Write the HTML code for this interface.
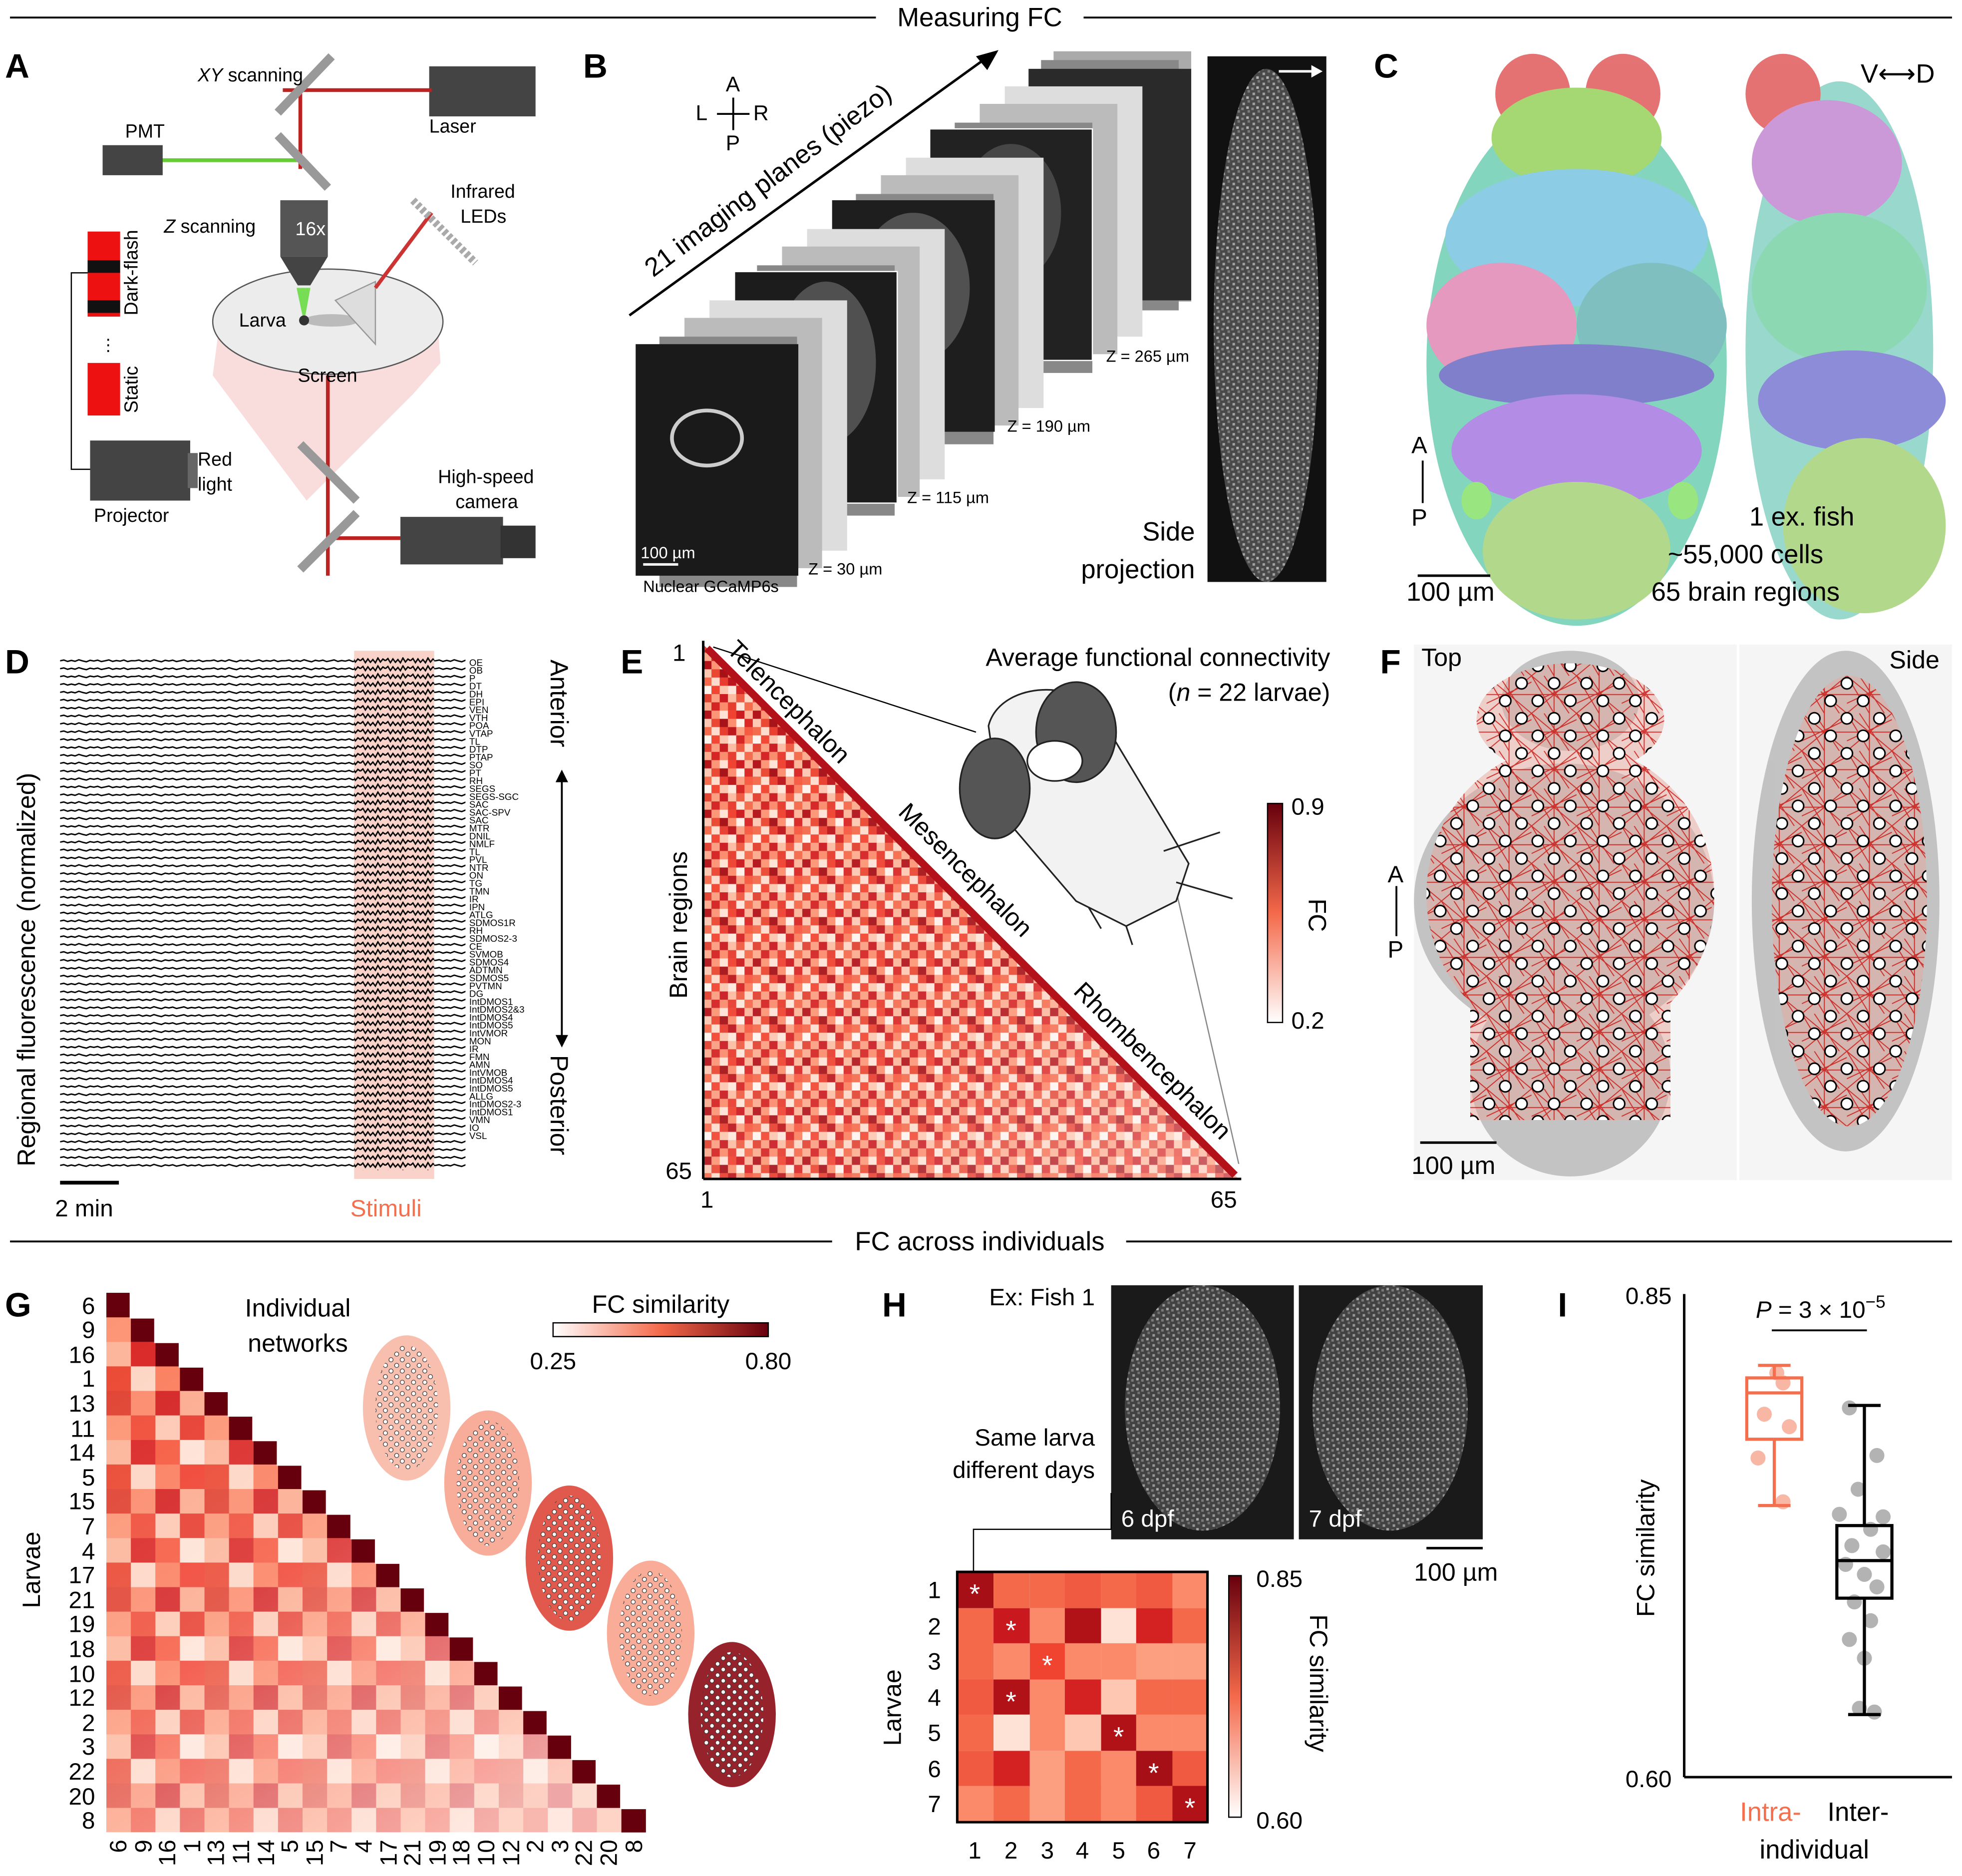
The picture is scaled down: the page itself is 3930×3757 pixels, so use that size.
<!DOCTYPE html>
<html><head><meta charset="utf-8">
<style>
html,body{margin:0;padding:0;background:#fff;}
svg{display:block;font-family:"Liberation Sans",Arial,sans-serif;}
</style></head>
<body>
<svg width="3930" height="3757" viewBox="0 0 1568 1499" xmlns="http://www.w3.org/2000/svg">
<defs>
<linearGradient id="gE" x1="0" y1="1" x2="0" y2="0"><stop offset="0" stop-color="#fff"/><stop offset="0.5" stop-color="#f4694a"/><stop offset="1" stop-color="#67000d"/></linearGradient>
<linearGradient id="gG" x1="0" y1="0" x2="1" y2="0"><stop offset="0" stop-color="#fff"/><stop offset="0.5" stop-color="#f4694a"/><stop offset="1" stop-color="#67000d"/></linearGradient>
<linearGradient id="fadeE" x1="0" y1="0" x2="1" y2="1"><stop offset="0" stop-color="#fff" stop-opacity="0"/><stop offset="0.6" stop-color="#fff" stop-opacity="0.1"/><stop offset="1" stop-color="#fff" stop-opacity="0.35"/></linearGradient>
<linearGradient id="fadeG" x1="0" y1="0" x2="0.7" y2="1"><stop offset="0" stop-color="#fff" stop-opacity="0"/><stop offset="0.5" stop-color="#fff" stop-opacity="0.15"/><stop offset="1" stop-color="#fff" stop-opacity="0.6"/></linearGradient>
<pattern id="pD" x="48" y="525" width="60" height="6.3" patternUnits="userSpaceOnUse">
<path d="M0,3 L3,2.4 L6,3.5 L9,2.7 L12,3.4 L15,2.2 L18,3.1 L21,3.8 L24,2.6 L27,3.2 L30,2.5 L33,3.6 L36,3 L39,2.3 L42,3.5 L45,2.8 L48,3.3 L51,2.4 L54,3.6 L57,2.9 L60,3" fill="none" stroke="#000" stroke-width="1.1"/>
</pattern>
<pattern id="pD2" x="48" y="525" width="20" height="6.3" patternUnits="userSpaceOnUse">
<path d="M0,3 L2,1.2 L4,4.5 L6,1.5 L8,4.2 L10,2 L12,4.6 L14,0.8 L16,4 L18,1.6 L20,3" fill="none" stroke="#000" stroke-width="1.1"/>
</pattern>
<pattern id="pE" x="562" y="515" width="39.6" height="39.6" patternUnits="userSpaceOnUse">
<rect width="39.6" height="39.6" fill="#f26a4c"/>
<rect x="0" y="0" width="6.6" height="6.6" fill="#e0402f"/><rect x="6.6" y="0" width="6.6" height="6.6" fill="#fb9d80"/><rect x="13.2" y="0" width="6.6" height="6.6" fill="#c9191f"/><rect x="19.8" y="0" width="6.6" height="6.6" fill="#fcbba1"/><rect x="26.4" y="0" width="6.6" height="6.6" fill="#ef5a40"/><rect x="33" y="0" width="6.6" height="6.6" fill="#fdd5c4"/>
<rect x="0" y="6.6" width="6.6" height="6.6" fill="#fcaa8d"/><rect x="6.6" y="6.6" width="6.6" height="6.6" fill="#d42121"/><rect x="13.2" y="6.6" width="6.6" height="6.6" fill="#fb8a6b"/><rect x="19.8" y="6.6" width="6.6" height="6.6" fill="#e63a2c"/><rect x="26.4" y="6.6" width="6.6" height="6.6" fill="#fee4d8"/><rect x="33" y="6.6" width="6.6" height="6.6" fill="#f4694a"/>
<rect x="0" y="13.2" width="6.6" height="6.6" fill="#b11218"/><rect x="6.6" y="13.2" width="6.6" height="6.6" fill="#fc9474"/><rect x="13.2" y="13.2" width="6.6" height="6.6" fill="#fee2d5"/><rect x="19.8" y="13.2" width="6.6" height="6.6" fill="#f03f2e"/><rect x="26.4" y="13.2" width="6.6" height="6.6" fill="#cb181d"/><rect x="33" y="13.2" width="6.6" height="6.6" fill="#fcb499"/>
<rect x="0" y="19.8" width="6.6" height="6.6" fill="#fdc7b2"/><rect x="6.6" y="19.8" width="6.6" height="6.6" fill="#ea4630"/><rect x="13.2" y="19.8" width="6.6" height="6.6" fill="#a50f15"/><rect x="19.8" y="19.8" width="6.6" height="6.6" fill="#fc8d6d"/><rect x="26.4" y="19.8" width="6.6" height="6.6" fill="#fff0e8"/><rect x="33" y="19.8" width="6.6" height="6.6" fill="#d92523"/>
<rect x="0" y="26.4" width="6.6" height="6.6" fill="#f4694a"/><rect x="6.6" y="26.4" width="6.6" height="6.6" fill="#fedbcc"/><rect x="13.2" y="26.4" width="6.6" height="6.6" fill="#e83b2c"/><rect x="19.8" y="26.4" width="6.6" height="6.6" fill="#bb141a"/><rect x="26.4" y="26.4" width="6.6" height="6.6" fill="#fc9e80"/><rect x="33" y="26.4" width="6.6" height="6.6" fill="#f6583e"/>
<rect x="0" y="33" width="6.6" height="6.6" fill="#fff3ed"/><rect x="6.6" y="33" width="6.6" height="6.6" fill="#f14430"/><rect x="13.2" y="33" width="6.6" height="6.6" fill="#fdc5ae"/><rect x="19.8" y="33" width="6.6" height="6.6" fill="#fee6da"/><rect x="26.4" y="33" width="6.6" height="6.6" fill="#d52221"/><rect x="33" y="33" width="6.6" height="6.6" fill="#fb7d5d"/>
</pattern>
<pattern id="pG" x="85" y="1033" width="78.4" height="78.4" patternUnits="userSpaceOnUse">
<rect width="78.4" height="78.4" fill="#f4694a"/>
<rect x="0" y="0" width="19.6" height="19.6" fill="#e0402f"/><rect x="19.6" y="0" width="19.6" height="19.6" fill="#fb8a6b"/><rect x="39.2" y="0" width="19.6" height="19.6" fill="#d42121"/><rect x="58.8" y="0" width="19.6" height="19.6" fill="#fcaa8d"/>
<rect x="0" y="19.6" width="19.6" height="19.6" fill="#fc9474"/><rect x="19.6" y="19.6" width="19.6" height="19.6" fill="#ef4b36"/><rect x="39.2" y="19.6" width="19.6" height="19.6" fill="#fdc7b2"/><rect x="58.8" y="19.6" width="19.6" height="19.6" fill="#e63a2c"/>
<rect x="0" y="39.2" width="19.6" height="19.6" fill="#fcb499"/><rect x="19.6" y="39.2" width="19.6" height="19.6" fill="#d92523"/><rect x="39.2" y="39.2" width="19.6" height="19.6" fill="#f6583e"/><rect x="58.8" y="39.2" width="19.6" height="19.6" fill="#fee2d5"/>
<rect x="0" y="58.8" width="19.6" height="19.6" fill="#ea4630"/><rect x="19.6" y="58.8" width="19.6" height="19.6" fill="#fdd5c4"/><rect x="39.2" y="58.8" width="19.6" height="19.6" fill="#fb7d5d"/><rect x="58.8" y="58.8" width="19.6" height="19.6" fill="#f03f2e"/>
</pattern>
<pattern id="pNet" x="0" y="0" width="36" height="30" patternUnits="userSpaceOnUse">
<g stroke="#c8100c" stroke-width="0.8" opacity="0.8">
<line x1="0" y1="0" x2="36" y2="30"/><line x1="36" y1="0" x2="0" y2="30"/><line x1="18" y1="0" x2="18" y2="30"/><line x1="0" y1="15" x2="36" y2="15"/><line x1="0" y1="0" x2="18" y2="30"/><line x1="36" y1="5" x2="0" y2="22"/><line x1="10" y1="0" x2="30" y2="30"/>
</g></pattern>
<pattern id="pNode" x="1132" y="540" width="26" height="28" patternUnits="userSpaceOnUse">
<circle cx="6" cy="6" r="4.5" fill="#fff" stroke="#000" stroke-width="1.2"/><circle cx="19" cy="20" r="4.5" fill="#fff" stroke="#000" stroke-width="1.2"/>
</pattern>
<pattern id="pMini" x="0" y="0" width="9" height="9" patternUnits="userSpaceOnUse">
<circle cx="2" cy="2" r="1.7" fill="#fff" stroke="#333" stroke-width="0.5"/><circle cx="6.5" cy="6.5" r="1.7" fill="#fff" stroke="#333" stroke-width="0.5"/>
</pattern>
<pattern id="pNoise" x="0" y="0" width="8" height="8" patternUnits="userSpaceOnUse">
<rect width="8" height="8" fill="#333"/><rect x="1" y="2" width="2" height="2" fill="#ccc"/><rect x="5" y="0" width="2" height="2" fill="#888"/><rect x="4" y="5" width="2" height="2" fill="#eee"/><rect x="0" y="6" width="2" height="2" fill="#999"/>
</pattern>
<clipPath id="cF1"><ellipse cx="1255" cy="575" rx="75" ry="45"/><ellipse cx="1255" cy="715" rx="115" ry="120"/><rect x="1175" y="760" width="160" height="135"/></clipPath>
<clipPath id="cF2"><ellipse cx="1478" cy="720" rx="62" ry="180"/></clipPath>
</defs>
<rect width="1568" height="1499" fill="#fff"/>
<!-- headers -->
<line x1="8" y1="14" x2="700" y2="14" stroke="#000" stroke-width="1.5"/>
<line x1="866" y1="14" x2="1560" y2="14" stroke="#000" stroke-width="1.5"/>
<text x="783" y="21" font-size="21" text-anchor="middle">Measuring FC</text>
<line x1="8" y1="992" x2="665" y2="992" stroke="#000" stroke-width="1.5"/>
<line x1="900" y1="992" x2="1560" y2="992" stroke="#000" stroke-width="1.5"/>
<text x="783" y="999" font-size="21" text-anchor="middle">FC across individuals</text>
<g font-weight="bold" font-size="27">
<text x="4" y="62">A</text><text x="466" y="62">B</text><text x="1098" y="62">C</text>
<text x="4" y="538">D</text><text x="496" y="538">E</text><text x="1103" y="538">F</text>
<text x="4" y="1052">G</text><text x="705" y="1052">H</text><text x="1245" y="1052">I</text>
</g>

<!-- Panel A -->
<polygon points="175,262 350,262 352,290 330,315 265,380 245,400 170,300" fill="#f7d3d3" opacity="0.8"/>
<ellipse cx="262" cy="257" rx="92" ry="42" fill="#ececec" stroke="#555"/>
<rect x="343" y="53" width="85" height="40" fill="#444"/>
<line x1="226" y1="72" x2="345" y2="72" stroke="#b22" stroke-width="3"/>
<line x1="240" y1="72" x2="240" y2="135" stroke="#b22" stroke-width="3"/>
<line x1="100" y1="128" x2="240" y2="128" stroke="#6c3" stroke-width="3"/>
<rect x="82" y="116" width="48" height="24" fill="#444"/>
<line x1="222" y1="90" x2="265" y2="45" stroke="#999" stroke-width="7"/>
<line x1="222" y1="108" x2="262" y2="150" stroke="#999" stroke-width="7"/>
<rect x="224" y="160" width="38" height="45" fill="#555"/>
<polygon points="224,205 262,205 248,228 238,228" fill="#444"/>
<text x="236" y="188" font-size="15" fill="#fff">16x</text>
<polygon points="237,230 248,230 243,258" fill="#7d5"/>
<ellipse cx="265" cy="256" rx="22" ry="5" fill="#bbb"/>
<circle cx="243" cy="256" r="4" fill="#333"/>
<polygon points="268,240 300,225 300,275" fill="#ddd" stroke="#999"/>
<line x1="300" y1="230" x2="345" y2="170" stroke="#c33" stroke-width="3"/>
<line x1="330" y1="160" x2="380" y2="210" stroke="#aaa" stroke-width="6" stroke-dasharray="3 2"/>
<line x1="262" y1="300" x2="262" y2="460" stroke="#b22" stroke-width="3"/>
<line x1="262" y1="430" x2="320" y2="430" stroke="#b22" stroke-width="3"/>
<line x1="240" y1="355" x2="285" y2="400" stroke="#999" stroke-width="7"/>
<line x1="240" y1="455" x2="285" y2="410" stroke="#999" stroke-width="7"/>
<rect x="320" y="413" width="82" height="38" fill="#444"/><rect x="400" y="420" width="28" height="26" fill="#333"/>
<rect x="72" y="352" width="80" height="48" fill="#444"/><rect x="150" y="362" width="8" height="28" fill="#666"/>
<rect x="70" y="185" width="26" height="68" fill="#e11"/><rect x="70" y="208" width="26" height="10" fill="#111"/><rect x="70" y="240" width="26" height="10" fill="#111"/>
<rect x="70" y="290" width="26" height="42" fill="#e11"/>
<polyline points="70,218 57,218 57,375 72,375" fill="none" stroke="#000"/>
<text x="80" y="280" font-size="13">⋮</text>
<g font-size="15">
<text x="158" y="65"><tspan font-style="italic">XY</tspan> scanning</text>
<text x="343" y="106">Laser</text><text x="100" y="110">PMT</text>
<text x="360" y="158">Infrared</text><text x="368" y="178">LEDs</text>
<text x="131" y="186"><tspan font-style="italic">Z</tspan> scanning</text>
<text x="191" y="261">Larva</text><text x="238" y="305">Screen</text>
<text x="158" y="372">Red</text><text x="158" y="392">light</text>
<text x="75" y="417">Projector</text>
<text x="350" y="386">High-speed</text><text x="364" y="406">camera</text>
<text transform="translate(110,252) rotate(-90)">Dark-flash</text>
<text transform="translate(110,330) rotate(-90)">Static</text>
</g>

<!-- Panel B stacks (back to front) -->
<g>
<rect x="842" y="41" width="110" height="200" fill="#aaa"/><rect x="832" y="48" width="110" height="200" fill="#888"/>
<rect x="822" y="55" width="130" height="185" fill="#2a2a2a"/>
<rect x="803" y="69" width="110" height="200" fill="#ddd"/><rect x="783" y="83" width="110" height="200" fill="#bbb"/><rect x="763" y="98" width="110" height="200" fill="#888"/>
<rect x="743" y="103" width="130" height="185" fill="#222" stroke="#fff"/>
<ellipse cx="808" cy="170" rx="40" ry="55" fill="#555" opacity="0.7"/>
<rect x="724" y="126" width="110" height="200" fill="#ddd"/><rect x="704" y="140" width="110" height="200" fill="#bbb"/><rect x="684" y="155" width="110" height="200" fill="#888"/>
<rect x="665" y="160" width="130" height="185" fill="#1e1e1e"/>
<ellipse cx="730" cy="230" rx="45" ry="60" fill="#666" opacity="0.7"/>
<rect x="645" y="183" width="110" height="200" fill="#ddd"/><rect x="625" y="197" width="110" height="200" fill="#bbb"/><rect x="605" y="212" width="110" height="200" fill="#888"/>
<rect x="587" y="217" width="130" height="185" fill="#1c1c1c" stroke="#fff"/>
<ellipse cx="660" cy="290" rx="40" ry="65" fill="#666" opacity="0.7"/>
<rect x="567" y="240" width="110" height="200" fill="#ddd"/><rect x="547" y="254" width="110" height="200" fill="#bbb"/><rect x="527" y="269" width="110" height="200" fill="#888"/>
<rect x="508" y="275" width="130" height="185" fill="#1a1a1a"/>
<ellipse cx="565" cy="350" rx="28" ry="22" fill="none" stroke="#ccc" stroke-width="3"/>
</g>
<g font-size="13">
<text x="580" y="73" font-size="17">A</text><text x="580" y="120" font-size="17">P</text>
<text x="556" y="96" font-size="17">L</text><text x="602" y="96" font-size="17">R</text>
<line x1="586" y1="78" x2="586" y2="104" stroke="#000" stroke-width="1.5"/><line x1="573" y1="91" x2="599" y2="91" stroke="#000" stroke-width="1.5"/>
<text transform="translate(522,222) rotate(-37)" font-size="21">21 imaging planes (piezo)</text>
<line x1="503" y1="252" x2="790" y2="45" stroke="#000" stroke-width="2"/>
<polygon points="798,40 780,45 789,56" fill="#000"/>
<text x="884" y="289">Z = 265 µm</text><text x="805" y="345">Z = 190 µm</text>
<text x="725" y="402">Z = 115 µm</text><text x="646" y="459">Z = 30 µm</text>
<text x="514" y="473">Nuclear GCaMP6s</text><text x="512" y="446" fill="#fff">100 µm</text>
<line x1="514" y1="451" x2="542" y2="451" stroke="#fff" stroke-width="2"/>
<text x="955" y="432" font-size="21" text-anchor="end">Side</text>
<text x="955" y="462" font-size="21" text-anchor="end">projection</text>
</g>
<rect x="965" y="45" width="95" height="420" fill="#111"/>
<ellipse cx="1012" cy="260" rx="42" ry="205" fill="url(#pNoise)" opacity="0.9"/>
<ellipse cx="1012" cy="260" rx="42" ry="205" fill="#777" opacity="0.35"/>
<line x1="1022" y1="57" x2="1052" y2="57" stroke="#fff" stroke-width="2"/><polygon points="1057,57 1048,52 1048,62" fill="#fff"/>

<!-- Panel C -->
<g opacity="0.75">
<ellipse cx="1260" cy="290" rx="120" ry="210" fill="#5bc8a8"/>
<ellipse cx="1225" cy="75" rx="30" ry="32" fill="#d44"/><ellipse cx="1297" cy="75" rx="30" ry="32" fill="#d44"/>
<ellipse cx="1260" cy="110" rx="68" ry="40" fill="#8c4"/>
<ellipse cx="1260" cy="190" rx="105" ry="55" fill="#6bd"/>
<ellipse cx="1200" cy="260" rx="60" ry="50" fill="#d7a"/><ellipse cx="1320" cy="260" rx="60" ry="50" fill="#5aa"/>
<ellipse cx="1260" cy="300" rx="110" ry="25" fill="#55b"/>
<ellipse cx="1260" cy="360" rx="100" ry="45" fill="#96d"/>
<ellipse cx="1260" cy="440" rx="75" ry="55" fill="#9c6"/>
<ellipse cx="1180" cy="400" rx="12" ry="15" fill="#7d5"/><ellipse cx="1345" cy="400" rx="12" ry="15" fill="#7d5"/>
<ellipse cx="1470" cy="280" rx="75" ry="215" fill="#7cb"/>
<ellipse cx="1425" cy="75" rx="30" ry="32" fill="#d44"/>
<ellipse cx="1460" cy="130" rx="60" ry="50" fill="#b7c"/>
<ellipse cx="1470" cy="230" rx="70" ry="60" fill="#6c9"/>
<ellipse cx="1480" cy="320" rx="75" ry="40" fill="#66c"/>
<ellipse cx="1490" cy="420" rx="65" ry="70" fill="#9c6"/>
</g>
<g font-size="21">
<text x="1487" y="66">V⟷D</text>
<text x="1128" y="362" font-size="19">A</text><text x="1128" y="420" font-size="19">P</text>
<line x1="1137" y1="368" x2="1137" y2="402" stroke="#000" stroke-width="1.5"/>
<line x1="1133" y1="460" x2="1191" y2="460" stroke="#000" stroke-width="2"/>
<text x="1124" y="480">100 µm</text>
<text x="1440" y="420" text-anchor="middle">1 ex. fish</text>
<text x="1395" y="450" text-anchor="middle">~55,000 cells</text>
<text x="1395" y="480" text-anchor="middle">65 brain regions</text>
</g>

<!-- Panel D -->
<rect x="283" y="520" width="64" height="422" fill="#f9d3c9"/>
<rect x="48" y="525" width="235" height="410" fill="url(#pD)"/>
<rect x="283" y="525" width="64" height="410" fill="url(#pD2)"/>
<rect x="347" y="525" width="25" height="410" fill="url(#pD)"/>
<line x1="48" y1="945" x2="95" y2="945" stroke="#000" stroke-width="3"/>
<text x="44" y="972" font-size="19">2 min</text>
<text x="280" y="972" font-size="19" fill="#f36f4e">Stimuli</text>
<text transform="translate(28,932) rotate(-90)" font-size="20">Regional fluorescence (normalized)</text>
<text transform="translate(440,527) rotate(90)" font-size="20">Anterior</text>
<text transform="translate(440,843) rotate(90)" font-size="20">Posterior</text>
<line x1="449" y1="620" x2="449" y2="832" stroke="#000" stroke-width="1.5"/>
<polygon points="449,615 444,625 454,625" fill="#000"/><polygon points="449,837 444,827 454,827" fill="#000"/>
<text x="375" y="532" font-size="7.5"><tspan x="375">OE</tspan><tspan x="375" dy="6.3">OB</tspan><tspan x="375" dy="6.3">P</tspan><tspan x="375" dy="6.3">DT</tspan><tspan x="375" dy="6.3">DH</tspan><tspan x="375" dy="6.3">EPI</tspan><tspan x="375" dy="6.3">VEN</tspan><tspan x="375" dy="6.3">VTH</tspan><tspan x="375" dy="6.3">POA</tspan><tspan x="375" dy="6.3">VTAP</tspan><tspan x="375" dy="6.3">TL</tspan><tspan x="375" dy="6.3">DTP</tspan><tspan x="375" dy="6.3">PTAP</tspan><tspan x="375" dy="6.3">SO</tspan><tspan x="375" dy="6.3">PT</tspan><tspan x="375" dy="6.3">RH</tspan><tspan x="375" dy="6.3">SEGS</tspan><tspan x="375" dy="6.3">SEGS-SGC</tspan><tspan x="375" dy="6.3">SAC</tspan><tspan x="375" dy="6.3">SAC-SPV</tspan><tspan x="375" dy="6.3">SAC</tspan><tspan x="375" dy="6.3">MTR</tspan><tspan x="375" dy="6.3">DNIL</tspan><tspan x="375" dy="6.3">NMLF</tspan><tspan x="375" dy="6.3">TL</tspan><tspan x="375" dy="6.3">PVL</tspan><tspan x="375" dy="6.3">NTR</tspan><tspan x="375" dy="6.3">ON</tspan><tspan x="375" dy="6.3">TG</tspan><tspan x="375" dy="6.3">TMN</tspan><tspan x="375" dy="6.3">IR</tspan><tspan x="375" dy="6.3">IPN</tspan><tspan x="375" dy="6.3">ATLG</tspan><tspan x="375" dy="6.3">SDMOS1R</tspan><tspan x="375" dy="6.3">RH</tspan><tspan x="375" dy="6.3">SDMOS2-3</tspan><tspan x="375" dy="6.3">CE</tspan><tspan x="375" dy="6.3">SVMOB</tspan><tspan x="375" dy="6.3">SDMOS4</tspan><tspan x="375" dy="6.3">ADTMN</tspan><tspan x="375" dy="6.3">SDMOS5</tspan><tspan x="375" dy="6.3">PVTMN</tspan><tspan x="375" dy="6.3">DG</tspan><tspan x="375" dy="6.3">IntDMOS1</tspan><tspan x="375" dy="6.3">IntDMOS2&amp;3</tspan><tspan x="375" dy="6.3">IntDMOS4</tspan><tspan x="375" dy="6.3">IntDMOS5</tspan><tspan x="375" dy="6.3">IntVMOR</tspan><tspan x="375" dy="6.3">MON</tspan><tspan x="375" dy="6.3">IR</tspan><tspan x="375" dy="6.3">FMN</tspan><tspan x="375" dy="6.3">AMN</tspan><tspan x="375" dy="6.3">IntVMOB</tspan><tspan x="375" dy="6.3">IntDMOS4</tspan><tspan x="375" dy="6.3">IntDMOS5</tspan><tspan x="375" dy="6.3">ALLG</tspan><tspan x="375" dy="6.3">IntDMOS2-3</tspan><tspan x="375" dy="6.3">IntDMOS1</tspan><tspan x="375" dy="6.3">VMN</tspan><tspan x="375" dy="6.3">IO</tspan><tspan x="375" dy="6.3">VSL</tspan></text>

<!-- Panel E -->
<polygon points="562,515 562,942 990,942" fill="url(#pE)"/>
<polygon points="562,515 562,942 990,942" fill="url(#fadeE)"/>
<line x1="565" y1="518" x2="987" y2="939" stroke="#b3121b" stroke-width="6"/>
<line x1="562" y1="512" x2="562" y2="942" stroke="#000" stroke-width="2"/>
<line x1="562" y1="942" x2="992" y2="942" stroke="#000" stroke-width="2"/>
<text x="548" y="528" font-size="19" text-anchor="end">1</text>
<text x="553" y="942" font-size="19" text-anchor="end">65</text>
<text x="565" y="965" font-size="19" text-anchor="middle">1</text>
<text x="978" y="965" font-size="19" text-anchor="middle">65</text>
<text transform="translate(549,798) rotate(-90)" font-size="20">Brain regions</text>
<g font-size="20">
<text transform="translate(580,520) rotate(45)">Telencephalon</text>
<text transform="translate(717,650) rotate(45)">Mesencephalon</text>
<text transform="translate(857,793) rotate(45)">Rhombencephalon</text>
<text x="1063" y="532" text-anchor="end">Average functional connectivity</text>
<text x="1063" y="560" text-anchor="end">(<tspan font-style="italic">n</tspan> = 22 larvae)</text>
</g>
<line x1="570" y1="517" x2="780" y2="585" stroke="#000"/>
<line x1="990" y1="930" x2="935" y2="690" stroke="#888"/>
<g stroke="#222" stroke-width="1.3">
<path d="M790,580 C800,540 880,540 890,590 L950,690 L940,720 L900,740 L860,720 L800,650 Z" fill="#f2f2f2"/>
<path d="M930,680 L975,665 M940,705 L985,718 M900,740 L905,755 M870,725 L880,742" fill="none"/>
<ellipse cx="860" cy="585" rx="32" ry="40" fill="#555"/>
<ellipse cx="795" cy="630" rx="28" ry="40" fill="#555"/>
<ellipse cx="843" cy="608" rx="22" ry="16" fill="#fff"/>
</g>
<rect x="1013" y="642" width="12" height="175" fill="url(#gE)" stroke="#000"/>
<text x="1032" y="651" font-size="19">0.9</text><text x="1032" y="822" font-size="19">0.2</text>
<text transform="translate(1046,718) rotate(90)" font-size="20">FC</text>

<!-- Panel F -->
<rect x="1130" y="515" width="258" height="428" fill="#f5f5f5"/>
<rect x="1390" y="515" width="170" height="428" fill="#f5f5f5"/>
<g fill="#999" opacity="0.55">
<ellipse cx="1255" cy="560" rx="55" ry="40"/><ellipse cx="1250" cy="720" rx="120" ry="110"/><ellipse cx="1255" cy="860" rx="80" ry="80"/>
<ellipse cx="1475" cy="720" rx="75" ry="200"/>
</g>
<g clip-path="url(#cF1)"><rect x="1130" y="530" width="258" height="380" fill="#e8a89c" opacity="0.5"/><rect x="1130" y="530" width="258" height="380" fill="url(#pNet)"/><rect x="1130" y="530" width="258" height="380" fill="url(#pNode)"/></g>
<g clip-path="url(#cF2)"><rect x="1390" y="530" width="170" height="380" fill="#e8a89c" opacity="0.5"/><rect x="1390" y="530" width="170" height="380" fill="url(#pNet)"/><rect x="1390" y="530" width="170" height="380" fill="url(#pNode)"/></g>
<text x="1136" y="532" font-size="20">Top</text><text x="1550" y="534" font-size="20" text-anchor="end">Side</text>
<text x="1109" y="705" font-size="19">A</text><text x="1109" y="765" font-size="19">P</text>
<line x1="1116" y1="708" x2="1116" y2="748" stroke="#000" stroke-width="1.5"/>
<line x1="1135" y1="913" x2="1196" y2="913" stroke="#000" stroke-width="2"/>
<text x="1128" y="938" font-size="20">100 µm</text>

<!-- Panel G -->
<polygon points="85,1033 85,1464 516,1464" fill="url(#pG)"/>
<polygon points="85,1033 85,1464 516,1464" fill="url(#fadeG)"/>
<g fill="#67000d">
<rect x="85" y="1033" width="19.6" height="19.6"/><rect x="104.6" y="1052.6" width="19.6" height="19.6"/><rect x="124.2" y="1072.2" width="19.6" height="19.6"/><rect x="143.8" y="1091.8" width="19.6" height="19.6"/><rect x="163.4" y="1111.4" width="19.6" height="19.6"/><rect x="183" y="1131" width="19.6" height="19.6"/><rect x="202.6" y="1150.6" width="19.6" height="19.6"/><rect x="222.2" y="1170.2" width="19.6" height="19.6"/><rect x="241.8" y="1189.8" width="19.6" height="19.6"/><rect x="261.4" y="1209.4" width="19.6" height="19.6"/><rect x="281" y="1229" width="19.6" height="19.6"/><rect x="300.6" y="1248.6" width="19.6" height="19.6"/><rect x="320.2" y="1268.2" width="19.6" height="19.6"/><rect x="339.8" y="1287.8" width="19.6" height="19.6"/><rect x="359.4" y="1307.4" width="19.6" height="19.6"/><rect x="379" y="1327" width="19.6" height="19.6"/><rect x="398.6" y="1346.6" width="19.6" height="19.6"/><rect x="418.2" y="1366.2" width="19.6" height="19.6"/><rect x="437.8" y="1385.8" width="19.6" height="19.6"/><rect x="457.4" y="1405.4" width="19.6" height="19.6"/><rect x="477" y="1425" width="19.6" height="19.6"/><rect x="496.6" y="1444.6" width="19.6" height="19.6"/>
</g>
<g fill="#fff" stroke="#fff" stroke-width="2"><polyline points="104.6,1033 104.6,1052.6 124.2,1052.6 124.2,1072.2 143.8,1072.2 143.8,1091.8 163.4,1091.8 163.4,1111.4 183,1111.4 183,1131 202.6,1131 202.6,1150.6 222.2,1150.6 222.2,1170.2 241.8,1170.2 241.8,1189.8 261.4,1189.8 261.4,1209.4 281,1209.4 281,1229 300.6,1229 300.6,1248.6 320.2,1248.6 320.2,1268.2 339.8,1268.2 339.8,1287.8 359.4,1287.8 359.4,1307.4 379,1307.4 379,1327 398.6,1327 398.6,1346.6 418.2,1346.6 418.2,1366.2 437.8,1366.2 437.8,1385.8 457.4,1385.8 457.4,1405.4 477,1405.4 477,1425 496.6,1425 496.6,1444.6 516.2,1444.6 516.2,1033" /></g>
<g font-size="19" text-anchor="end">
<text x="76" y="1050">6</text><text x="76" y="1069">9</text><text x="76" y="1089">16</text><text x="76" y="1108">1</text><text x="76" y="1128">13</text><text x="76" y="1148">11</text><text x="76" y="1167">14</text><text x="76" y="1187">5</text><text x="76" y="1206">15</text><text x="76" y="1226">7</text><text x="76" y="1246">4</text><text x="76" y="1265">17</text><text x="76" y="1285">21</text><text x="76" y="1304">19</text><text x="76" y="1324">18</text><text x="76" y="1344">10</text><text x="76" y="1363">12</text><text x="76" y="1383">2</text><text x="76" y="1402">3</text><text x="76" y="1422">22</text><text x="76" y="1442">20</text><text x="76" y="1461">8</text>
<text transform="translate(101,1470) rotate(-90)">6</text><text transform="translate(121,1470) rotate(-90)">9</text><text transform="translate(140,1470) rotate(-90)">16</text><text transform="translate(160,1470) rotate(-90)">1</text><text transform="translate(179,1470) rotate(-90)">13</text><text transform="translate(199,1470) rotate(-90)">11</text><text transform="translate(219,1470) rotate(-90)">14</text><text transform="translate(238,1470) rotate(-90)">5</text><text transform="translate(258,1470) rotate(-90)">15</text><text transform="translate(277,1470) rotate(-90)">7</text><text transform="translate(297,1470) rotate(-90)">4</text><text transform="translate(317,1470) rotate(-90)">17</text><text transform="translate(336,1470) rotate(-90)">21</text><text transform="translate(356,1470) rotate(-90)">19</text><text transform="translate(375,1470) rotate(-90)">18</text><text transform="translate(395,1470) rotate(-90)">10</text><text transform="translate(415,1470) rotate(-90)">12</text><text transform="translate(434,1470) rotate(-90)">2</text><text transform="translate(454,1470) rotate(-90)">3</text><text transform="translate(473,1470) rotate(-90)">22</text><text transform="translate(493,1470) rotate(-90)">20</text><text transform="translate(513,1470) rotate(-90)">8</text>
</g>
<text transform="translate(32,1285) rotate(-90)" font-size="20">Larvae</text>
<text x="238" y="1052" font-size="20" text-anchor="middle">Individual</text>
<text x="238" y="1080" font-size="20" text-anchor="middle">networks</text>
<text x="528" y="1049" font-size="20" text-anchor="middle">FC similarity</text>
<rect x="442" y="1057" width="172" height="11" fill="url(#gG)" stroke="#000"/>
<text x="442" y="1094" font-size="19" text-anchor="middle">0.25</text><text x="614" y="1094" font-size="19" text-anchor="middle">0.80</text>
<g>
<ellipse cx="325" cy="1125" rx="35" ry="58" fill="#f7a48c" opacity="0.7"/><ellipse cx="325" cy="1125" rx="25" ry="50" fill="url(#pMini)"/>
<ellipse cx="390" cy="1185" rx="35" ry="58" fill="#f48a6e" opacity="0.7"/><ellipse cx="390" cy="1185" rx="25" ry="50" fill="url(#pMini)"/>
<ellipse cx="455" cy="1245" rx="35" ry="58" fill="#d9301f" opacity="0.8"/><ellipse cx="455" cy="1245" rx="25" ry="50" fill="url(#pMini)"/>
<ellipse cx="520" cy="1305" rx="35" ry="58" fill="#f6896b" opacity="0.7"/><ellipse cx="520" cy="1305" rx="25" ry="50" fill="url(#pMini)"/>
<ellipse cx="585" cy="1370" rx="35" ry="58" fill="#8b0a14" opacity="0.9"/><ellipse cx="585" cy="1370" rx="25" ry="50" fill="url(#pMini)"/>
</g>

<!-- Panel H -->
<text x="875" y="1043" font-size="19" text-anchor="end">Ex: Fish 1</text>
<rect x="888" y="1027" width="146" height="203" fill="#1a1a1a"/>
<rect x="1038" y="1027" width="147" height="203" fill="#1a1a1a"/>
<ellipse cx="961" cy="1125" rx="62" ry="98" fill="url(#pNoise)"/>
<ellipse cx="1111" cy="1125" rx="62" ry="98" fill="url(#pNoise)"/>
<ellipse cx="961" cy="1125" rx="62" ry="98" fill="#555" opacity="0.45"/>
<ellipse cx="1111" cy="1125" rx="62" ry="98" fill="#555" opacity="0.45"/>
<text x="896" y="1220" font-size="19" fill="#fff">6 dpf</text><text x="1046" y="1220" font-size="19" fill="#fff">7 dpf</text>
<line x1="1140" y1="1237" x2="1185" y2="1237" stroke="#000" stroke-width="2"/>
<text x="1130" y="1263" font-size="20">100 µm</text>
<text x="875" y="1155" font-size="19" text-anchor="end">Same larva</text>
<text x="875" y="1181" font-size="19" text-anchor="end">different days</text>
<polyline points="888,1193 888,1222 778,1222 778,1256" fill="none" stroke="#000"/>
<g>
<rect x="765" y="1256" width="29" height="29" fill="#a50f15"/><rect x="794" y="1256" width="29" height="29" fill="#f4694a"/><rect x="823" y="1256" width="29" height="29" fill="#f4694a"/><rect x="851" y="1256" width="29" height="29" fill="#ef5a40"/><rect x="880" y="1256" width="29" height="29" fill="#f4694a"/><rect x="908" y="1256" width="29" height="29" fill="#ef5a40"/><rect x="937" y="1256" width="29" height="29" fill="#fb8a6b"/>
<rect x="765" y="1285" width="29" height="29" fill="#f4694a"/><rect x="794" y="1285" width="29" height="29" fill="#c9191f"/><rect x="823" y="1285" width="29" height="29" fill="#fb8a6b"/><rect x="851" y="1285" width="29" height="29" fill="#b11218"/><rect x="880" y="1285" width="29" height="29" fill="#fee2d5"/><rect x="908" y="1285" width="29" height="29" fill="#d42121"/><rect x="937" y="1285" width="29" height="29" fill="#f4694a"/>
<rect x="765" y="1313" width="29" height="29" fill="#f4694a"/><rect x="794" y="1313" width="29" height="29" fill="#fb8a6b"/><rect x="823" y="1313" width="29" height="29" fill="#f14430"/><rect x="851" y="1313" width="29" height="29" fill="#fb8a6b"/><rect x="880" y="1313" width="29" height="29" fill="#fb8a6b"/><rect x="908" y="1313" width="29" height="29" fill="#fc9e80"/><rect x="937" y="1313" width="29" height="29" fill="#fc9e80"/>
<rect x="765" y="1342" width="29" height="29" fill="#ef5a40"/><rect x="794" y="1342" width="29" height="29" fill="#b11218"/><rect x="823" y="1342" width="29" height="29" fill="#fb8a6b"/><rect x="851" y="1342" width="29" height="29" fill="#d42121"/><rect x="880" y="1342" width="29" height="29" fill="#fdc7b2"/><rect x="908" y="1342" width="29" height="29" fill="#f4694a"/><rect x="937" y="1342" width="29" height="29" fill="#f4694a"/>
<rect x="765" y="1370" width="29" height="29" fill="#f4694a"/><rect x="794" y="1370" width="29" height="29" fill="#fee2d5"/><rect x="823" y="1370" width="29" height="29" fill="#fb8a6b"/><rect x="851" y="1370" width="29" height="29" fill="#fdc7b2"/><rect x="880" y="1370" width="29" height="29" fill="#b11218"/><rect x="908" y="1370" width="29" height="29" fill="#fb8a6b"/><rect x="937" y="1370" width="29" height="29" fill="#fb8a6b"/>
<rect x="765" y="1399" width="29" height="29" fill="#ef5a40"/><rect x="794" y="1399" width="29" height="29" fill="#d42121"/><rect x="823" y="1399" width="29" height="29" fill="#fc9e80"/><rect x="851" y="1399" width="29" height="29" fill="#f4694a"/><rect x="880" y="1399" width="29" height="29" fill="#fb8a6b"/><rect x="908" y="1399" width="29" height="29" fill="#a50f15"/><rect x="937" y="1399" width="29" height="29" fill="#ef5a40"/>
<rect x="765" y="1427" width="29" height="29" fill="#fb8a6b"/><rect x="794" y="1427" width="29" height="29" fill="#f4694a"/><rect x="823" y="1427" width="29" height="29" fill="#fc9e80"/><rect x="851" y="1427" width="29" height="29" fill="#f4694a"/><rect x="880" y="1427" width="29" height="29" fill="#fb8a6b"/><rect x="908" y="1427" width="29" height="29" fill="#ef5a40"/><rect x="937" y="1427" width="29" height="29" fill="#b11218"/>
</g>
<g font-size="22" fill="#fff" text-anchor="middle">
<text x="779" y="1281">*</text><text x="808" y="1310">*</text><text x="837" y="1338">*</text><text x="808" y="1367">*</text><text x="894" y="1395">*</text><text x="922" y="1424">*</text><text x="951" y="1452">*</text>
</g>
<rect x="765" y="1256" width="200" height="200" fill="none" stroke="#000" stroke-width="2"/>
<g font-size="19">
<text x="752" y="1277" text-anchor="end">1</text><text x="752" y="1306" text-anchor="end">2</text><text x="752" y="1334" text-anchor="end">3</text><text x="752" y="1363" text-anchor="end">4</text><text x="752" y="1391" text-anchor="end">5</text><text x="752" y="1420" text-anchor="end">6</text><text x="752" y="1448" text-anchor="end">7</text>
<g text-anchor="middle"><text x="779" y="1485">1</text><text x="808" y="1485">2</text><text x="837" y="1485">3</text><text x="865" y="1485">4</text><text x="894" y="1485">5</text><text x="922" y="1485">6</text><text x="951" y="1485">7</text></g>
</g>
<text transform="translate(720,1395) rotate(-90)" font-size="20">Larvae</text>
<rect x="982" y="1259" width="10" height="193" fill="url(#gE)" stroke="#000"/>
<text x="1004" y="1268" font-size="19">0.85</text><text x="1004" y="1461" font-size="19">0.60</text>
<text transform="translate(1047,1290) rotate(90)" font-size="20">FC similarity</text>

<!-- Panel I -->
<line x1="1346" y1="1034" x2="1346" y2="1420" stroke="#000" stroke-width="2"/>
<line x1="1346" y1="1420" x2="1560" y2="1420" stroke="#000" stroke-width="2"/>
<text x="1336" y="1042" font-size="19" text-anchor="end">0.85</text>
<text x="1336" y="1428" font-size="19" text-anchor="end">0.60</text>
<text transform="translate(1322,1292) rotate(-90)" font-size="20">FC similarity</text>
<text x="1455" y="1053" font-size="19" text-anchor="middle"><tspan font-style="italic">P</tspan> = 3 × 10<tspan dy="-8" font-size="14">−5</tspan></text>
<line x1="1416" y1="1063" x2="1492" y2="1063" stroke="#000" stroke-width="1.5"/>
<g fill="#f36f4e" opacity="0.5"><circle cx="1420" cy="1097" r="6"/><circle cx="1410" cy="1130" r="6"/><circle cx="1425" cy="1200" r="6"/><circle cx="1405" cy="1165" r="6"/><circle cx="1430" cy="1140" r="6"/><circle cx="1425" cy="1105" r="6"/></g>
<g stroke="#f36f4e" stroke-width="2.5" fill="none">
<line x1="1418" y1="1091" x2="1418" y2="1101"/><line x1="1418" y1="1150" x2="1418" y2="1203"/>
<line x1="1405" y1="1091" x2="1431" y2="1091"/><line x1="1405" y1="1203" x2="1431" y2="1203"/>
<rect x="1396" y="1101" width="44" height="49"/><line x1="1396" y1="1113" x2="1440" y2="1113"/>
</g>
<g fill="#444" opacity="0.4">
<circle cx="1478" cy="1125" r="6"/><circle cx="1500" cy="1163" r="6"/><circle cx="1485" cy="1190" r="6"/><circle cx="1470" cy="1210" r="6"/><circle cx="1495" cy="1222" r="6"/><circle cx="1480" cy="1235" r="6"/><circle cx="1505" cy="1240" r="6"/><circle cx="1475" cy="1250" r="6"/><circle cx="1490" cy="1258" r="6"/><circle cx="1500" cy="1268" r="6"/><circle cx="1482" cy="1280" r="6"/><circle cx="1495" cy="1295" r="6"/><circle cx="1478" cy="1310" r="6"/><circle cx="1490" cy="1325" r="6"/><circle cx="1486" cy="1365" r="6"/><circle cx="1498" cy="1368" r="6"/><circle cx="1505" cy="1212" r="6"/>
</g>
<g stroke="#000" stroke-width="2.5" fill="none">
<line x1="1490" y1="1123" x2="1490" y2="1219"/><line x1="1490" y1="1277" x2="1490" y2="1370"/>
<line x1="1477" y1="1123" x2="1503" y2="1123"/><line x1="1477" y1="1370" x2="1503" y2="1370"/>
<rect x="1468" y="1219" width="44" height="58"/><line x1="1468" y1="1247" x2="1512" y2="1247"/>
</g>
<text x="1415" y="1455" font-size="21" fill="#f36f4e" text-anchor="middle">Intra-</text>
<text x="1485" y="1455" font-size="21" text-anchor="middle">Inter-</text>
<text x="1450" y="1485" font-size="21" text-anchor="middle">individual</text>
</svg>
</body></html>
